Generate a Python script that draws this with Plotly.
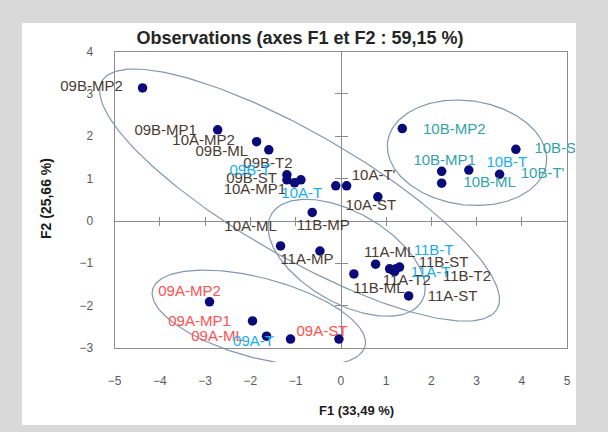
import numpy as np
import plotly.graph_objects as go

# ---------------- data ----------------
names = ["09B-MP2", "09B-MP1", "10A-MP2", "09B-ML", "09B-T2", "09B-T", "09B-ST",
         "10A-MP1", "10A-T", "10A-T'", "10A-ST", "11B-MP", "10A-ML",
         "11A-MP", "11B-ML", "11A-ML", "11B-ST", "11A-T", "11B-T", "11A-T2",
         "11B-T2", "11A-ST",
         "09A-MP2", "09A-MP1", "09A-ML", "09A-T", "09A-ST",
         "10B-MP2", "10B-ST", "10B-MP1", "10B-T", "10B-T'", "10B-ML"]
f1 = [-4.38, -2.72, -1.86, -1.59, -1.19, -1.19, -1.02,
      -0.88, -0.11, 0.13, 0.82, -0.63, -1.33,
      -0.46, 0.29, 0.77, 1.08, 1.19, 1.30, 1.15,
      1.22, 1.50,
      -2.90, -1.95, -1.64, -1.11, -0.04,
      1.36, 3.87, 2.23, 2.83, 3.51, 2.23]
f2 = [3.14, 2.15, 1.87, 1.68, 1.09, 0.97, 0.90,
      0.97, 0.83, 0.83, 0.57, 0.20, -0.59,
      -0.71, -1.25, -1.02, -1.13, -1.20, -1.09, -1.16,
      -1.13, -1.77,
      -1.91, -2.36, -2.72, -2.79, -2.79,
      2.18, 1.69, 1.17, 1.20, 1.10, 0.89]

x_ticks = [-5, -4, -3, -2, -1, 0, 1, 2, 3, 4, 5]
y_ticks = [-3, -2, -1, 0, 1, 2, 3, 4]
x_range = [-5, 5]
y_range = [-3, 4]

title_text = "Observations (axes F1 et F2 : 59,15 %)"
x_title = "F1 (33,49 %)"
y_title = "F2 (25,66 %)"

# group ellipses: centre (F1, F2), semi-axes (F1 units), tilt (deg)
ell_cx = [-0.91, 2.79, 0.13, -1.81]
ell_cy = [0.61, 1.61, -0.87, -2.29]
ell_a = [5.04, 1.77, 1.92, 2.43]
ell_b = [1.37, 1.15, 1.0, 0.88]
ell_ang = [-30, -8, -30, -15]

# ---------------- label placement (pixel offsets from point) ----------------
lab_dx = [-51, -52, -53, -47, -19, -37, -43,
          -46, -34, 27, -7, 11, -30,
          -13, 25, 14, 54, 36, 34, 14,
          71, 44,
          -20, -53, -49, -37, -17,
          52, 44, 3, 38, 43, 48]
lab_dy = [-1, 1, 0, 2, -11, -9, -4,
          10, 8, -10, 9, 14, -19,
          9, 15, -11, -6, 1, -16, 11,
          8, 1,
          -10, 1, 1, 3, -7,
          2, 0, -10, -7, 0, 0]

# ---------------- geometry ----------------
W, H = 608, 432
ML, MR, MT, MB = 40, 33, 40, 70          # overlay (marks) area margins
PW, PH = W - ML - MR, H - MT - MB
px_left, px_right, px_top, px_bottom = 114.5, 567, 51.5, 348
xd = [(px_left - ML) / PW, (px_right - ML) / PW]
yd = [(H - MB - px_bottom) / PH, (H - MB - px_top) / PH]

xs = x_range[1] - x_range[0]
ys = y_range[1] - y_range[0]
xr_o = [x_range[0] - xd[0] * xs / (xd[1] - xd[0]),
        x_range[1] + (1 - xd[1]) * xs / (xd[1] - xd[0])]
yr_o = [y_range[0] - yd[0] * ys / (yd[1] - yd[0]),
        y_range[1] + (1 - yd[1]) * ys / (yd[1] - yd[0])]
xpx = (xd[1] - xd[0]) * PW / xs   # pixels per F1 unit
ypx = (yd[1] - yd[0]) * PH / ys   # pixels per F2 unit
aspect = xpx / ypx

y0_pos = yd[0] + (0 - y_range[0]) / ys * (yd[1] - yd[0])
x0_pos = xd[0] + (0 - x_range[0]) / xs * (xd[1] - xd[0])

DARK = "#4a3b35"
CYAN = "#19aef0"
TEAL = "#33a3a8"
RED = "#ff5252"
DOT = "#0a0a78"
AXC = "#8c8c8c"
ELC = "#8497b0"


def lab_color(n):
    if n.endswith("-T"):
        return CYAN
    if n.startswith("10B"):
        return TEAL
    if n.startswith("09A"):
        return RED
    return DARK


fig = go.Figure()

# ellipses
t = np.linspace(0, 2 * np.pi, 241)
for cx, cy, a, b, ang in zip(ell_cx, ell_cy, ell_a, ell_b, ell_ang):
    th = np.deg2rad(ang)
    ex = cx + a * np.cos(th) * np.cos(t) - b * np.sin(th) * np.sin(t)
    ey = cy + (a * np.sin(th) * np.cos(t) + b * np.cos(th) * np.sin(t)) * aspect
    fig.add_trace(go.Scatter(x=ex, y=ey, mode="lines", xaxis="x2", yaxis="y2",
                             line=dict(color=ELC, width=1.2),
                             hoverinfo="skip", showlegend=False))

# points
fig.add_trace(go.Scatter(x=f1, y=f2, mode="markers", xaxis="x2", yaxis="y2",
                         marker=dict(color=DOT, size=9.5), text=names,
                         hoverinfo="text", showlegend=False))

# labels
for col in [DARK, TEAL, RED, CYAN]:
    idx = [i for i, n in enumerate(names) if lab_color(n) == col]
    lx = [f1[i] + lab_dx[i] / xpx for i in idx]
    ly = [f2[i] - lab_dy[i] / ypx for i in idx]
    fig.add_trace(go.Scatter(x=lx, y=ly, mode="text", xaxis="x2", yaxis="y2",
                             text=[names[i] for i in idx], textposition="middle center",
                             textfont=dict(family="Liberation Sans", size=15, color=col),
                             cliponaxis=True, hoverinfo="skip", showlegend=False))

# dummy traces so the zero-line tick axes exist
for xa, ya in [("x3", "y"), ("x4", "y"), ("x", "y3"), ("x", "y4"), ("x", "y")]:
    fig.add_trace(go.Scatter(x=[None], y=[None], xaxis=xa, yaxis=ya,
                             showlegend=False, hoverinfo="skip"))

tickfont = dict(family="Liberation Sans", size=12, color="#595959")
fig.update_layout(
    width=W, height=H,
    margin=dict(l=ML, r=MR, t=MT, b=MB),
    paper_bgcolor="#d9d9d9",
    plot_bgcolor="rgba(0,0,0,0)",
    title=dict(text=title_text, xref="container", yref="container",
               x=300 / W, y=1 - 38 / H, xanchor="center", yanchor="middle",
               font=dict(family="Liberation Sans", size=18, color="#262626", weight="bold")),
    xaxis=dict(domain=xd, range=x_range, anchor="y", showline=True, mirror=True,
               linecolor=AXC, linewidth=1, showgrid=False, zeroline=False,
               tickvals=x_ticks, ticks="outside", ticklen=22, tickcolor="rgba(0,0,0,0)",
               tickfont=tickfont, fixedrange=True),
    yaxis=dict(domain=yd, range=y_range, anchor="x", showline=True, mirror=True,
               linecolor=AXC, linewidth=1, showgrid=False, zeroline=False,
               tickvals=y_ticks, ticks="outside", ticklen=18, tickcolor="rgba(0,0,0,0)",
               tickfont=tickfont, fixedrange=True),
    xaxis2=dict(domain=[0, 1], range=xr_o, anchor="y2", visible=False, fixedrange=True),
    yaxis2=dict(domain=[0, 1], range=yr_o, anchor="x2", visible=False, fixedrange=True),
    xaxis3=dict(overlaying="x", anchor="free", position=y0_pos, range=x_range,
                showline=True, linecolor=AXC, linewidth=1, showgrid=False, zeroline=False,
                tickvals=[v for v in x_ticks if v != 0], ticks="outside", ticklen=4,
                tickcolor=AXC, showticklabels=False, side="bottom", fixedrange=True),
    xaxis4=dict(overlaying="x", anchor="free", position=y0_pos, range=x_range,
                showline=False, showgrid=False, zeroline=False,
                tickvals=[v for v in x_ticks if v != 0], ticks="inside", ticklen=4,
                tickcolor=AXC, showticklabels=False, side="bottom", fixedrange=True),
    yaxis3=dict(overlaying="y", anchor="free", position=x0_pos, range=y_range,
                showline=True, linecolor=AXC, linewidth=1, showgrid=False, zeroline=False,
                tickvals=[v for v in y_ticks if v != 0], ticks="outside", ticklen=6,
                tickcolor=AXC, showticklabels=False, side="left", fixedrange=True),
    yaxis4=dict(overlaying="y", anchor="free", position=x0_pos, range=y_range,
                showline=False, showgrid=False, zeroline=False,
                tickvals=[v for v in y_ticks if v != 0], ticks="inside", ticklen=6,
                tickcolor=AXC, showticklabels=False, side="left", fixedrange=True),
    shapes=[dict(type="rect", xref="paper", yref="paper", layer="below",
                 x0=(22 - ML) / PW, x1=(576 - ML) / PW,
                 y0=(H - MB - 425) / PH, y1=(H - MB - 23) / PH,
                 fillcolor="white", line=dict(width=0))],
    annotations=[
        dict(text=x_title, xref="paper", yref="paper", showarrow=False,
             x=(356 - ML) / PW, y=(H - MB - 410) / PH, xanchor="center", yanchor="middle",
             font=dict(family="Liberation Sans", size=13, color="#1a1a1a", weight="bold")),
        dict(text=y_title, xref="paper", yref="paper", showarrow=False, textangle=-90,
             x=(46 - ML) / PW, y=(H - MB - 199) / PH, xanchor="center", yanchor="middle",
             font=dict(family="Liberation Sans", size=14, color="#1a1a1a", weight="bold")),
    ],
)

fig.write_html("out.html", config={"displayModeBar": False},
               post_script="document.body.style.margin='0px';document.body.style.overflow='hidden';")
